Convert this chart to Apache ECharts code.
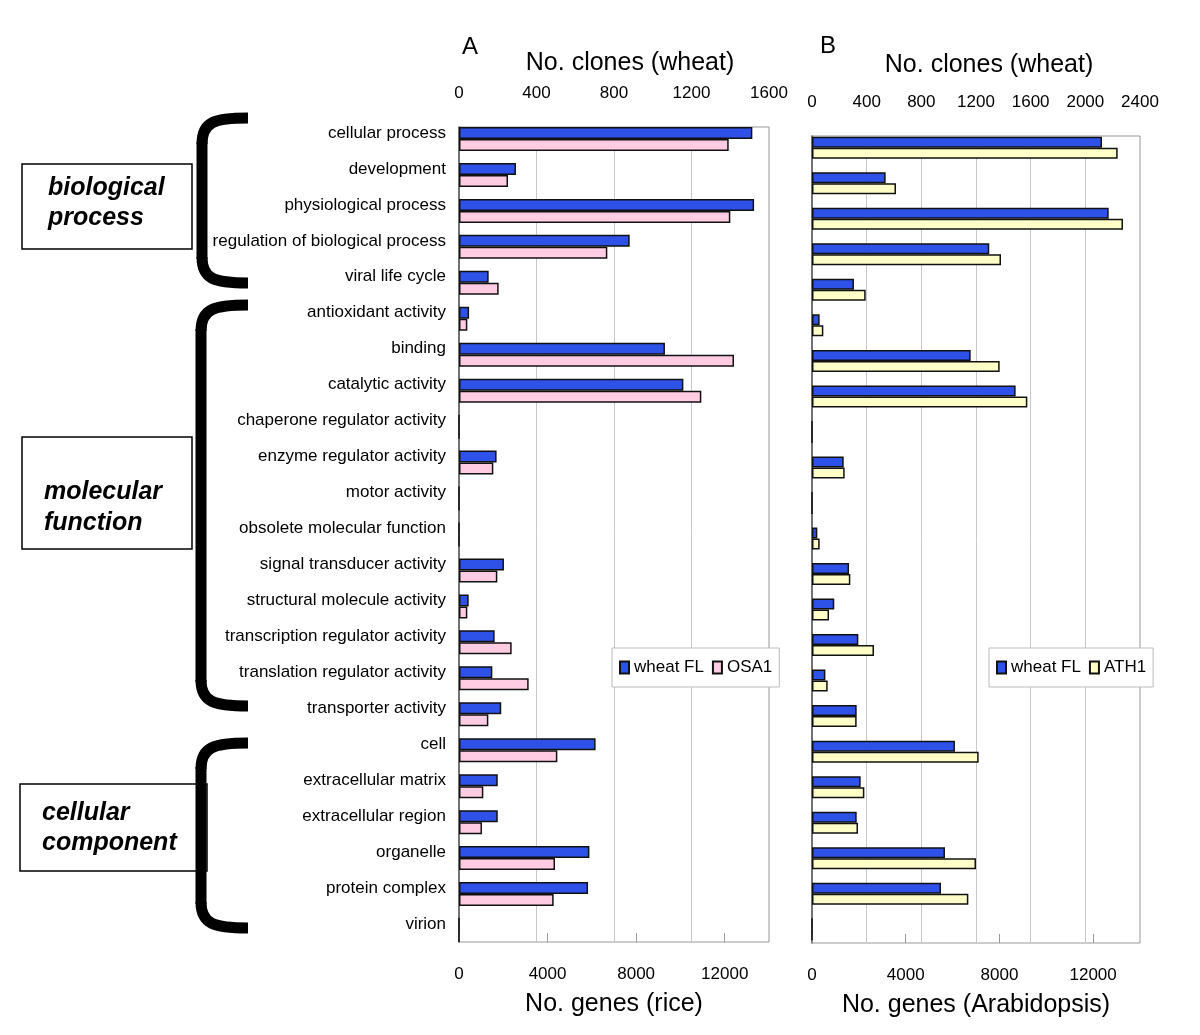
<!DOCTYPE html>
<html><head><meta charset="utf-8">
<script src="https://cdn.jsdelivr.net/npm/echarts@6/dist/echarts.min.js"></script>
<style>html,body{margin:0;padding:0;background:#fff}#c{width:1200px;height:1035px}</style>
</head><body><div id="c"></div>
<script>
const categories = ['cellular process','development','physiological process','regulation of biological process','viral life cycle','antioxidant activity','binding','catalytic activity','chaperone regulator activity','enzyme regulator activity','motor activity','obsolete molecular function','signal transducer activity','structural molecule activity','transcription regulator activity','translation regulator activity','transporter activity','cell','extracellular matrix','extracellular region','organelle','protein complex','virion'];
// Panel A
const wheatClonesA = [1514, 294, 1523, 881, 153, 52, 1063, 1158, 0, 194, 0, 0, 232, 50, 184, 172, 218, 705, 200, 200, 673, 666, 0];
const osa1Genes = [12180, 2213, 12253, 6699, 1791, 376, 12419, 10944, 0, 1550, 0, 0, 1731, 376, 2378, 3146, 1325, 4441, 1099, 1039, 4335, 4275, 0];
// Panel B
const wheatClonesB = [2122, 539, 2171, 1297, 307, 56, 1161, 1490, 0, 232, 0, 39, 271, 163, 339, 98, 327, 1046, 356, 327, 973, 944, 0];
const ath1Genes = [13047, 3585, 13274, 8067, 2291, 484, 8010, 9191, 0, 1394, 0, 327, 1636, 726, 2646, 669, 1906, 7114, 2234, 1963, 7000, 6673, 0];

const FONT = '"Liberation Sans", Arial, sans-serif';
const BLUE = '#2e52e8', PINK = '#ffcce4', YELLOW = '#ffffc8';
const plain = (v) => String(v);

function topAxis(grid, max, name, shift, gap) {
  return {gridIndex: grid, type: 'value', position: 'top', min: 0, max: max, interval: 400,
    name: name, nameLocation: 'middle', nameGap: gap,
    nameTextStyle: {fontSize: 25, fontFamily: FONT, color: '#000', padding: [0, 0, 0, shift]},
    axisLine: {show: false}, axisTick: {show: false},
    axisLabel: {margin: 25, fontSize: 17, fontFamily: FONT, color: '#000', formatter: plain},
    splitLine: {show: true, lineStyle: {color: '#c8c8c8', width: 1}}};
}
function bottomAxis(grid, name) {
  return {gridIndex: grid, type: 'value', position: 'bottom', min: 0, max: 14000, interval: 4000,
    name: name, nameLocation: 'middle', nameGap: 50,
    nameTextStyle: {fontSize: 25, fontFamily: FONT, color: '#000'},
    axisLine: {show: false}, axisTick: {show: true, inside: true, length: 9, lineStyle: {color: '#999'}},
    axisLabel: {margin: 24, fontSize: 17, fontFamily: FONT, color: '#000', showMaxLabel: false, formatter: plain},
    splitLine: {show: false}};
}
function frameY(grid) {
  return {gridIndex: grid, type: 'value', min: 0, max: 1,
    axisLine: {show: true, lineStyle: {color: '#555', width: 1.5}},
    axisLabel: {show: false}, axisTick: {show: false}, splitLine: {show: false}};
}
function bracket(top, bottom, x) {
  return [
    {type: 'bezierCurve', shape: {x1: 248, y1: top, cpx1: 214, cpy1: top, cpx2: x, cpy2: top + 4, x2: x, y2: top + 26}, style: {stroke: '#000', lineWidth: 11, fill: 'none'}},
    {type: 'line', shape: {x1: x, y1: top + 24, x2: x, y2: bottom - 24}, style: {stroke: '#000', lineWidth: 11}},
    {type: 'bezierCurve', shape: {x1: x, y1: bottom - 26, cpx1: x, cpy1: bottom - 4, cpx2: 214, cpy2: bottom, x2: 248, y2: bottom}, style: {stroke: '#000', lineWidth: 11, fill: 'none'}}
  ];
}
function box(x, y, w, h, l1, l2, tx, ty1, ty2) {
  const f = 'italic bold 25px "Liberation Sans", Arial, sans-serif';
  return [
    {type: 'rect', shape: {x: x, y: y, width: w, height: h}, style: {fill: '#fff', stroke: '#000', lineWidth: 1.5}},
    {type: 'text', x: tx, y: ty1, style: {text: l1, font: f, fill: '#000', align: 'left', verticalAlign: 'middle', textAlign: 'left', textVerticalAlign: 'middle'}},
    {type: 'text', x: tx, y: ty2, style: {text: l2, font: f, fill: '#000', align: 'left', verticalAlign: 'middle', textAlign: 'left', textVerticalAlign: 'middle'}}
  ];
}
function letter(t, x, y) {
  return {type: 'text', x: x, y: y, style: {text: t, font: '24px "Liberation Sans", Arial, sans-serif', fill: '#000', align: 'center', verticalAlign: 'middle', textAlign: 'center', textVerticalAlign: 'middle'}};
}
const legendBase = {orient: 'horizontal', top: 648, padding: [11, 7, 11, 7], itemGap: 8, itemWidth: 9, itemHeight: 12,
  borderColor: '#bbb', borderWidth: 1, backgroundColor: '#fff', icon: 'rect',
  textStyle: {fontSize: 17, fontFamily: FONT, color: '#000'}};
const barStyle = (c) => ({color: c, borderColor: '#111', borderWidth: 1.5});

const option = {
  animation: false,
  backgroundColor: '#fff',
  grid: [
    {left: 459, top: 121, width: 310, height: 827},
    {left: 459, top: 127, width: 310, height: 815, show: true, borderColor: '#999', borderWidth: 1, backgroundColor: 'transparent'},
    {left: 812, top: 130, width: 328, height: 817},
    {left: 812, top: 136, width: 328, height: 807, show: true, borderColor: '#999', borderWidth: 1, backgroundColor: 'transparent'}
  ],
  xAxis: [
    {gridIndex: 0, type: 'value', position: 'top', min: 0, max: 1600, show: false},
    {gridIndex: 0, type: 'value', position: 'bottom', min: 0, max: 14000, show: false},
    topAxis(1, 1600, 'No. clones (wheat)', 32, 51),
    bottomAxis(1, 'No. genes (rice)'),
    {gridIndex: 2, type: 'value', position: 'top', min: 0, max: 2400, show: false},
    {gridIndex: 2, type: 'value', position: 'bottom', min: 0, max: 14000, show: false},
    topAxis(3, 2400, 'No. clones (wheat)', 26, 58),
    bottomAxis(3, 'No. genes (Arabidopsis)')
  ],
  yAxis: [
    {gridIndex: 0, type: 'category', inverse: true, data: categories,
      axisLine: {show: false}, axisTick: {show: false}, splitLine: {show: false},
      axisLabel: {margin: 13, fontSize: 17, fontFamily: FONT, color: '#000', verticalAlign: 'bottom', lineHeight: 12}},
    frameY(1),
    {gridIndex: 2, type: 'category', inverse: true, data: categories, show: false},
    frameY(3)
  ],
  legend: [
    Object.assign({}, legendBase, {left: 612, data: ['wheat FL', 'OSA1']}),
    Object.assign({}, legendBase, {left: 989, data: ['wheat FL', 'ATH1']})
  ],
  series: [
    {type: 'bar', name: 'wheat FL', xAxisIndex: 0, yAxisIndex: 0, data: wheatClonesA, barWidth: 12, barGap: '0%', itemStyle: barStyle(BLUE)},
    {type: 'bar', name: 'OSA1', xAxisIndex: 1, yAxisIndex: 0, data: osa1Genes, barWidth: 12, barGap: '0%', itemStyle: barStyle(PINK)},
    {type: 'bar', name: 'wheat FL', xAxisIndex: 4, yAxisIndex: 2, data: wheatClonesB, barWidth: 11, barGap: '0%', itemStyle: barStyle(BLUE)},
    {type: 'bar', name: 'ATH1', xAxisIndex: 5, yAxisIndex: 2, data: ath1Genes, barWidth: 11, barGap: '0%', itemStyle: barStyle(YELLOW)}
  ],
  graphic: [].concat(
    box(22, 164, 170, 85, 'biological', 'process', 48, 188, 218),
    box(22, 437, 170, 112, 'molecular', 'function', 44, 492, 523),
    box(20, 784, 187, 87, 'cellular', 'component', 42, 813, 843),
    bracket(118, 283, 202),
    bracket(305, 706, 201),
    bracket(743, 928, 201),
    [letter('A', 470, 47), letter('B', 828, 46)]
  )
};
const chart = echarts.init(document.getElementById('c'), null, {renderer: 'canvas'});
chart.setOption(option);
</script></body></html>
